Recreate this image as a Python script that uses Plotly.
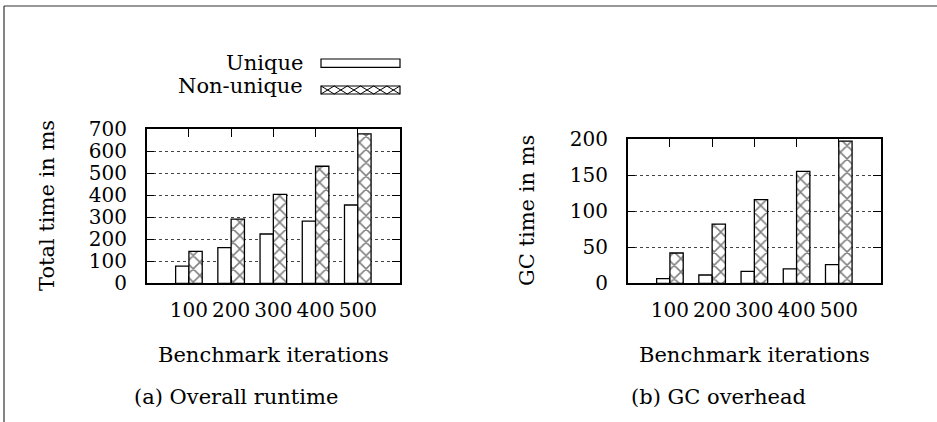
import plotly.graph_objects as go

W, H = 937, 422

iterations = ["100", "200", "300", "400", "500"]
total_unique = [78, 162, 224, 283, 356]
total_nonunique = [145, 292, 404, 532, 679]
gc_unique = [6.5, 11.5, 16.5, 20, 26]
gc_nonunique = [42, 82, 116, 155, 197]

FONT = "DejaVu Serif"
TICKFONT = dict(family=FONT, size=20, color="black")
TXTFONT = dict(family=FONT, size=21, color="black")

def px(x):
    return x / W

def py(y):
    return 1 - y / H

pos = list(range(1, len(iterations) + 1))

fig = go.Figure()

def add_bars(xa, ya, uniq, nonuniq):
    fig.add_trace(go.Bar(
        x=pos, y=uniq, xaxis=xa, yaxis=ya, name="Unique",
        marker=dict(color="white", line=dict(color="black", width=1.3)),
        showlegend=False,
    ))
    fig.add_trace(go.Bar(
        x=pos, y=nonuniq, xaxis=xa, yaxis=ya, name="Non-unique",
        marker=dict(color="white", line=dict(color="black", width=1.3),
                    pattern=dict(shape="x", size=9.4, solidity=0.3,
                                 fgcolor="black", bgcolor="white")),
        showlegend=False,
    ))

add_bars("x", "y", total_unique, total_nonunique)
add_bars("x2", "y2", gc_unique, gc_nonunique)

xcommon = dict(
    range=[0, 6], tickvals=pos, ticktext=iterations,
    ticks="inside", ticklen=8, tickwidth=1, tickcolor="black",
    showline=True, linewidth=1.5, linecolor="black", mirror="ticks",
    showgrid=False, zeroline=False, tickfont=TICKFONT,
    ticklabelstandoff=8, fixedrange=True,
)
ycommon = dict(
    ticks="inside", ticklen=8, tickwidth=1, tickcolor="black",
    showline=True, linewidth=1.5, linecolor="black", mirror="ticks",
    showgrid=True, gridcolor="#444", griddash="dot", gridwidth=1,
    zeroline=False, tickfont=TICKFONT, ticklabelstandoff=14, fixedrange=True,
)

fig.update_layout(
    width=W, height=H,
    margin=dict(l=0, r=0, t=0, b=0, autoexpand=False),
    paper_bgcolor="white", plot_bgcolor="white",
    barmode="group", bargap=0.37, bargroupgap=0,
    xaxis=dict(domain=[px(146.7), px(400)], anchor="y", **xcommon),
    yaxis=dict(domain=[py(283.3), py(129.3)], anchor="x",
               range=[0, 700], dtick=100, **ycommon),
    xaxis2=dict(domain=[px(627.7), px(881)], anchor="y2", **xcommon),
    yaxis2=dict(domain=[py(283.3), py(139)], anchor="x2",
                range=[0, 200], dtick=50, **ycommon),
    showlegend=False,
)

ann = []
def text(x, y, s, angle=0, xanchor="center"):
    ann.append(dict(x=px(x), y=py(y), xref="paper", yref="paper", text=s,
                    showarrow=False, font=TXTFONT, textangle=angle,
                    xanchor=xanchor, yanchor="middle"))

text(47, 206, "Total time in ms", angle=-90)
text(527, 211, "GC time in ms", angle=-90)
text(273.3, 355, "Benchmark iterations")
text(754.3, 355, "Benchmark iterations")
text(236, 397, "(a) Overall runtime")
text(718, 397, "(b) GC overhead")
text(305, 63, "Unique", xanchor="right")
text(305, 86, "Non-unique", xanchor="right")

shapes = []
# frame
shapes.append(dict(type="line", xref="paper", yref="paper", x0=px(4), y0=py(6),
                   x1=px(937), y1=py(6), line=dict(color="#333", width=1.2)))
shapes.append(dict(type="line", xref="paper", yref="paper", x0=px(4), y0=py(6),
                   x1=px(4), y1=py(422), line=dict(color="#333", width=1.2)))
# legend swatches
shapes.append(dict(type="rect", xref="paper", yref="paper", x0=px(321), x1=px(400),
                   y0=py(59), y1=py(67.3), line=dict(color="black", width=1.2),
                   fillcolor="white"))
bx0, bx1, by0, by1 = 321, 400, 86, 94
n = 6
cw = (bx1 - bx0) / n
p1 = "M %f %f" % (px(bx0), py(by0))
p2 = "M %f %f" % (px(bx0), py(by1))
for i in range(1, n + 1):
    xx = bx0 + i * cw
    ya, yb = (by1, by0) if i % 2 == 1 else (by0, by1)
    p1 += " L %f %f" % (px(xx), py(ya))
    p2 += " L %f %f" % (px(xx), py(yb))
shapes.append(dict(type="path", xref="paper", yref="paper", path=p1,
                   line=dict(color="black", width=1)))
shapes.append(dict(type="path", xref="paper", yref="paper", path=p2,
                   line=dict(color="black", width=1)))
shapes.append(dict(type="rect", xref="paper", yref="paper", x0=px(bx0), x1=px(bx1),
                   y0=py(by0), y1=py(by1), line=dict(color="black", width=1.2)))

fig.update_layout(annotations=ann, shapes=shapes)
fig.write_html("out.html",
               config={"displayModeBar": False, "staticPlot": False},
               post_script="document.body.style.margin='0';document.body.style.padding='0';")
